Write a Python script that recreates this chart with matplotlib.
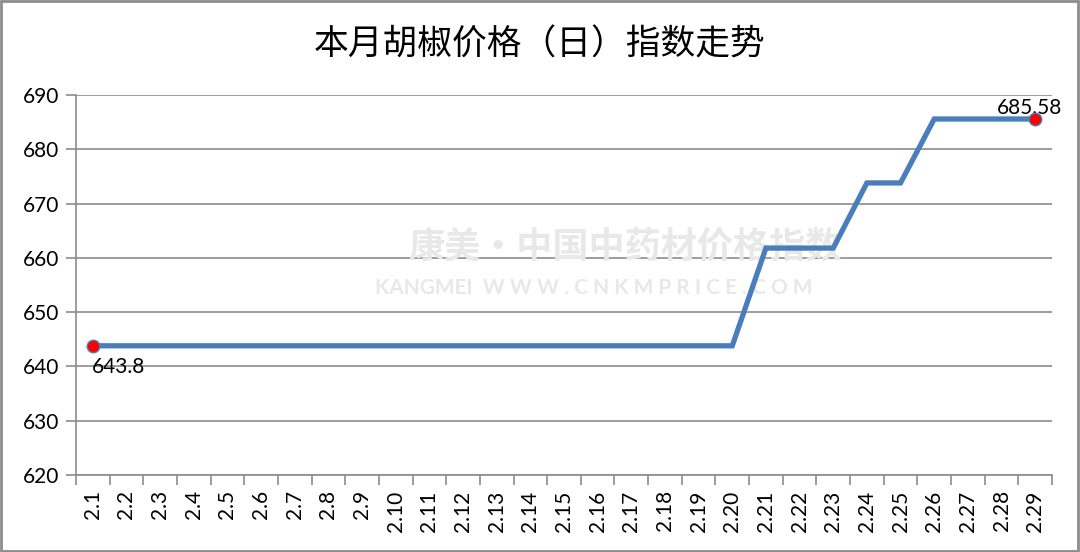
import numpy as np
import matplotlib.pyplot as plt
from matplotlib.patches import Rectangle

plt.rcParams['font.family'] = ['Lato', 'Noto Sans CJK SC', 'DejaVu Sans']

title = '本月胡椒价格（日）指数走势'
days = ['2.%d' % d for d in range(1, 30)]
values = [643.8] * 20 + [661.8, 661.8, 661.8, 673.8, 673.8,
                         685.58, 685.58, 685.58, 685.58]

fig = plt.figure(figsize=(10.8, 5.52), dpi=100)
ax = fig.add_axes([76 / 1080, 1 - 475 / 552, 976 / 1080, 380 / 552])

x = np.arange(len(days))
ax.plot(x, values, color='#4a7ebb', lw=3.8, zorder=3, solid_joinstyle='miter')

# first and last points highlighted
for i in (0, len(values) - 1):
    ax.plot(x[i], values[i], 'o', ms=9, mfc='red', mec='#4a7ebb', mew=1, zorder=4)
ax.annotate('%g' % values[0], (x[0], values[0]), xytext=(-1, -8),
            textcoords='offset points', ha='left', va='top', fontsize=15)
ax.annotate('%g' % values[-1], (x[-1], values[-1]), xytext=(-4, 1),
            textcoords='offset points', ha='center', va='bottom', fontsize=15)

ax.set_xlim(-0.5, len(days) - 0.5)
ax.set_ylim(620, 690)
ax.set_yticks(np.arange(620, 691, 10))
ax.yaxis.grid(True, color='#8c8c8c', lw=1.2)
ax.set_axisbelow(True)

ax.set_xticks(x)
ax.set_xticklabels(days, rotation=90, fontsize=15)
ax.set_xticks(np.arange(-0.5, len(days)), minor=True)
ax.tick_params(axis='x', which='major', length=0, pad=11)
ax.tick_params(axis='x', which='minor', length=7, color='#8c8c8c', width=1.2)
ax.tick_params(axis='y', length=7, color='#8c8c8c', width=1.2, labelsize=15, pad=5)

for s in ('top', 'right'):
    ax.spines[s].set_visible(False)
for s in ('left', 'bottom'):
    ax.spines[s].set_color('#8c8c8c')
    ax.spines[s].set_linewidth(1.2)

# watermark, under the line
ax.text(625 / 1080, 1 - 247 / 552, '康美·中国中药材价格指数', transform=fig.transFigure,
        ha='center', va='center', fontsize=26, color='#e8e8e8', fontweight='bold',
        zorder=1, family=['Noto Sans CJK SC'])
ax.text(594 / 1080, 1 - 288 / 552, 'KANGMEI  W W W . C N K M P R I C E . C O M',
        transform=fig.transFigure, ha='center', va='center', fontsize=15,
        color='#e8e8e8', fontweight='bold', zorder=1)

fig.text(0.5, 1 - 45 / 552, title, ha='center', va='center', fontsize=25,
         family=['Noto Sans CJK SC'], fontweight='medium')

fig.patches.append(Rectangle((0.001, 0.002), 0.997, 0.996, transform=fig.transFigure,
                             fill=False, ec='#8c8c8c', lw=2))

plt.savefig('out.png', dpi=100)
